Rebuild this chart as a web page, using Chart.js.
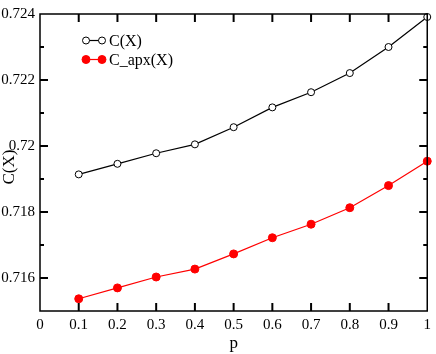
<!DOCTYPE html>
<html>
<head>
<meta charset="utf-8">
<script src="https://cdn.jsdelivr.net/npm/chart.js"></script>
<style>
  html, body { margin: 0; padding: 0; background: #fff; }
  #wrap { width: 436px; height: 354px; }
</style>
</head>
<body>
<div id="wrap"><canvas id="chart" width="436" height="354"></canvas></div>
<script>
// values
const pValues = [0.1, 0.2, 0.3, 0.4, 0.5, 0.6, 0.7, 0.8, 0.9, 1.0];
const cExact = [0.71914, 0.71946, 0.71978, 0.72005, 0.72057, 0.72117, 0.72163, 0.72221, 0.72300, 0.72391];
const cApprox = [0.71537, 0.71570, 0.71603, 0.71627, 0.71673, 0.71722, 0.71763, 0.71813, 0.71880, 0.71954];
const seriesLabels = ['C(X)', 'C_apx(X)'];
const xTickValues = [0.1, 0.2, 0.3, 0.4, 0.5, 0.6, 0.7, 0.8, 0.9];
const yTickValues = [0.716, 0.717, 0.718, 0.719, 0.72, 0.721, 0.722, 0.723];
const xLabel = 'p';
const yLabel = 'C(X)';

const SERIF = '"Liberation Serif", "Times New Roman", serif';

function toPoints(ys) {
    return pValues.map((p, i) => ({ x: p, y: ys[i] }));
}

// inward tick marks, full frame and the y title, xmgrace style
const framePlugin = {
    id: 'frame',
    afterDraw(chart) {
        const ctx = chart.ctx;
        const a = chart.chartArea;
        const xs = chart.scales.x;
        const ys = chart.scales.y;
        ctx.save();
        ctx.strokeStyle = '#000';
        ctx.lineWidth = 2;
        xTickValues.forEach(v => {
            const px = xs.getPixelForValue(v);
            ctx.beginPath();
            ctx.moveTo(px, a.bottom);
            ctx.lineTo(px, a.bottom - 8);
            ctx.stroke();
            ctx.beginPath();
            ctx.moveTo(px, a.top);
            ctx.lineTo(px, a.top + 8);
            ctx.stroke();
        });
        yTickValues.forEach(v => {
            const len = Math.round(v * 1000) % 2 === 0 ? 8 : 4;
            const py = ys.getPixelForValue(v);
            ctx.beginPath();
            ctx.moveTo(a.left, py);
            ctx.lineTo(a.left + len, py);
            ctx.stroke();
            ctx.beginPath();
            ctx.moveTo(a.right, py);
            ctx.lineTo(a.right - len, py);
            ctx.stroke();
        });
        ctx.lineWidth = 1.5;
        ctx.strokeRect(a.left, a.top, a.right - a.left, a.bottom - a.top);

        // y title sits a bit below the middle in the original
        ctx.translate(10, 167);
        ctx.rotate(-Math.PI / 2);
        ctx.font = '17px ' + SERIF;
        ctx.fillStyle = '#000';
        ctx.textAlign = 'center';
        ctx.textBaseline = 'middle';
        ctx.fillText(yLabel, 0, 0);
        ctx.restore();
    }
};

// legend drawn inside the plot, upper left
const legendPlugin = {
    id: 'innerLegend',
    afterDraw(chart) {
        const ctx = chart.ctx;
        ctx.save();
        ctx.font = '16px ' + SERIF;
        ctx.textBaseline = 'middle';
        chart.data.datasets.forEach((ds, i) => {
            const y = 40.5 + i * 19;
            const x0 = 86, x1 = 102;
            ctx.strokeStyle = ds.borderColor;
            ctx.lineWidth = ds.borderWidth;
            ctx.beginPath();
            ctx.moveTo(x0, y);
            ctx.lineTo(x1, y);
            ctx.stroke();
            [x0, x1].forEach(x => {
                ctx.beginPath();
                ctx.arc(x, y, ds.pointRadius, 0, Math.PI * 2);
                ctx.fillStyle = ds.pointBackgroundColor;
                ctx.fill();
                ctx.lineWidth = 1;
                ctx.strokeStyle = ds.pointBorderColor;
                ctx.stroke();
            });
            ctx.fillStyle = '#000';
            ctx.fillText(ds.label, 109, y + 1);
        });
        ctx.restore();
    }
};

new Chart(document.getElementById('chart').getContext('2d'), {
    type: 'line',
    data: {
        datasets: [{
            label: seriesLabels[0],
            data: toPoints(cExact),
            borderColor: '#000',
            borderWidth: 1.2,
            pointRadius: 3.5,
            pointBackgroundColor: '#fff',
            pointBorderColor: '#000',
            pointBorderWidth: 1,
            clip: false
        }, {
            label: seriesLabels[1],
            data: toPoints(cApprox),
            borderColor: '#ff0000',
            borderWidth: 1.2,
            pointRadius: 4,
            pointBackgroundColor: '#ff0000',
            pointBorderColor: '#ff0000',
            pointBorderWidth: 1,
            clip: false
        }]
    },
    options: {
        responsive: false,
        animation: false,
        layout: { padding: { top: 6, right: 5, left: 0, bottom: 0 } },
        plugins: {
            legend: { display: false },
            tooltip: { enabled: false }
        },
        scales: {
            x: {
                type: 'linear',
                min: 0,
                max: 1,
                grid: { display: false, drawTicks: false },
                border: { display: false },
                afterFit(scale) { scale.height = 43; },
                ticks: {
                    stepSize: 0.1,
                    padding: 5,
                    color: '#000',
                    maxRotation: 0,
                    autoSkip: false,
                    font: { family: SERIF, size: 15 },
                    callback: v => String(parseFloat(v.toFixed(1)))
                },
                title: {
                    display: true,
                    text: xLabel,
                    color: '#000',
                    padding: { top: 0, bottom: 0 },
                    font: { family: SERIF, size: 17 }
                }
            },
            y: {
                min: 0.715,
                max: 0.724,
                grid: { display: false, drawTicks: false },
                border: { display: false },
                afterFit(scale) { scale.width = 40; },
                ticks: {
                    stepSize: 0.001,
                    padding: 5,
                    color: '#000',
                    autoSkip: false,
                    font: { family: SERIF, size: 15 },
                    callback: v => {
                        const k = Math.round(v * 1000);
                        if (k % 2 !== 0 || k < 716) return '';
                        return String(parseFloat(v.toFixed(3)));
                    }
                }
            }
        }
    },
    plugins: [framePlugin, legendPlugin]
});
</script>
</body>
</html>
